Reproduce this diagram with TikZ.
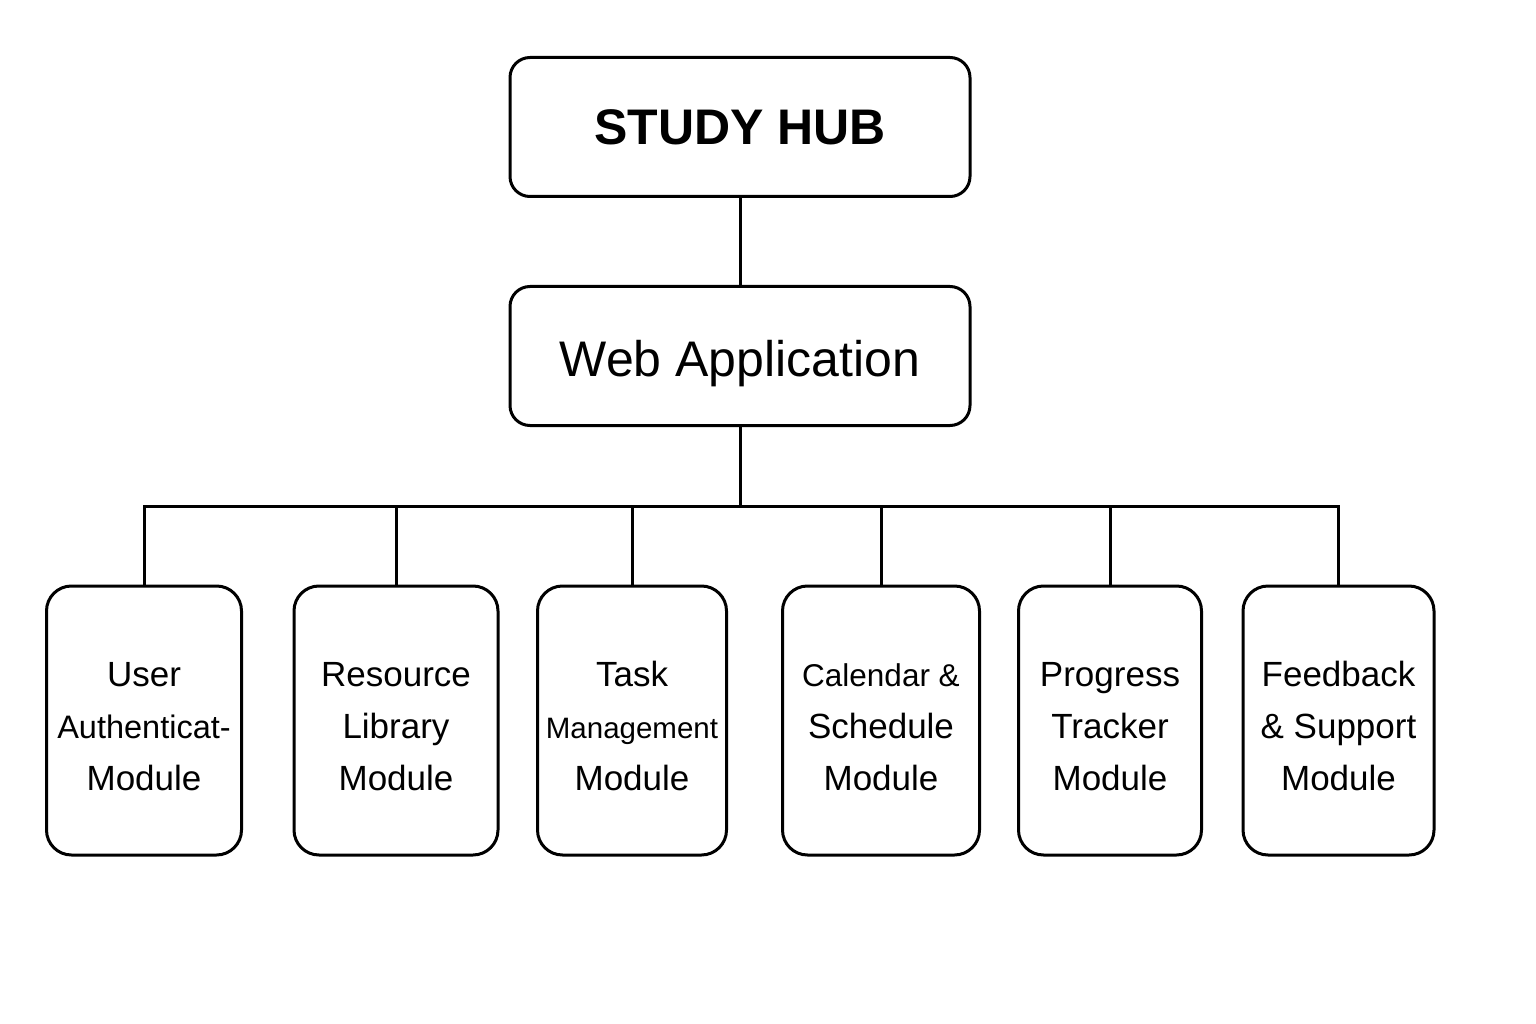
\documentclass[tikz,border=0pt]{standalone}
\usepackage{fontspec}
\setmainfont{Liberation Sans}
\newcommand{\upstrut}[1]{\rule{0pt}{#1}}
\begin{document}
\begin{tikzpicture}[x=1pt,y=-1pt,
  topbox/.style={draw, line width=3pt, rounded corners=20pt, minimum width=460pt, minimum height=139pt, inner sep=0pt, align=center},
  modbox/.style={draw, line width=3pt, rounded corners=25pt, minimum height=269pt, inner sep=0pt, align=center, font=\fontsize{35}{52}\selectfont},
  link/.style={line width=3pt}]
\useasboundingbox[fill=white] (0,0) rectangle (1536,1024);
\node[topbox, font=\fontsize{50}{60}\selectfont\bfseries] (hub) at (740,127) {STUDY HUB};
\node[topbox, font=\fontsize{50}{60}\selectfont] (web) at (740,356) {\upstrut{50.5pt}Web Application};
\coordinate (bus) at (740,506);
\node[modbox, minimum width=195pt] (m1) at (144,720.5) {\upstrut{35.8pt}User\\{\fontsize{32.5}{52}\selectfont Authenticat-}\\Module};
\node[modbox, minimum width=204pt] (m2) at (396,720.5) {\upstrut{35.8pt}Resource\\Library\\Module};
\node[modbox, minimum width=189pt] (m3) at (632,720.5) {\upstrut{35.8pt}Task\\{\fontsize{29.5}{52}\selectfont Management}\\Module};
\node[modbox, minimum width=197pt] (m4) at (881,720.5) {\upstrut{35.8pt}{\fontsize{31.5}{52}\selectfont Calendar \&}\\Schedule\\Module};
\node[modbox, minimum width=183pt] (m5) at (1110,720.5) {\upstrut{35.8pt}Progress\\Tracker\\Module};
\node[modbox, minimum width=191pt] (m6) at (1338.5,720.5) {\upstrut{35.8pt}Feedback\\\& Support\\Module};
\draw[link] (hub) -- (web);
\draw[link] (web) -- (bus);
\foreach \m in {m1,m2,m3,m4,m5,m6} \draw[link] (\m.north) |- (bus);
\end{tikzpicture}
\end{document}
